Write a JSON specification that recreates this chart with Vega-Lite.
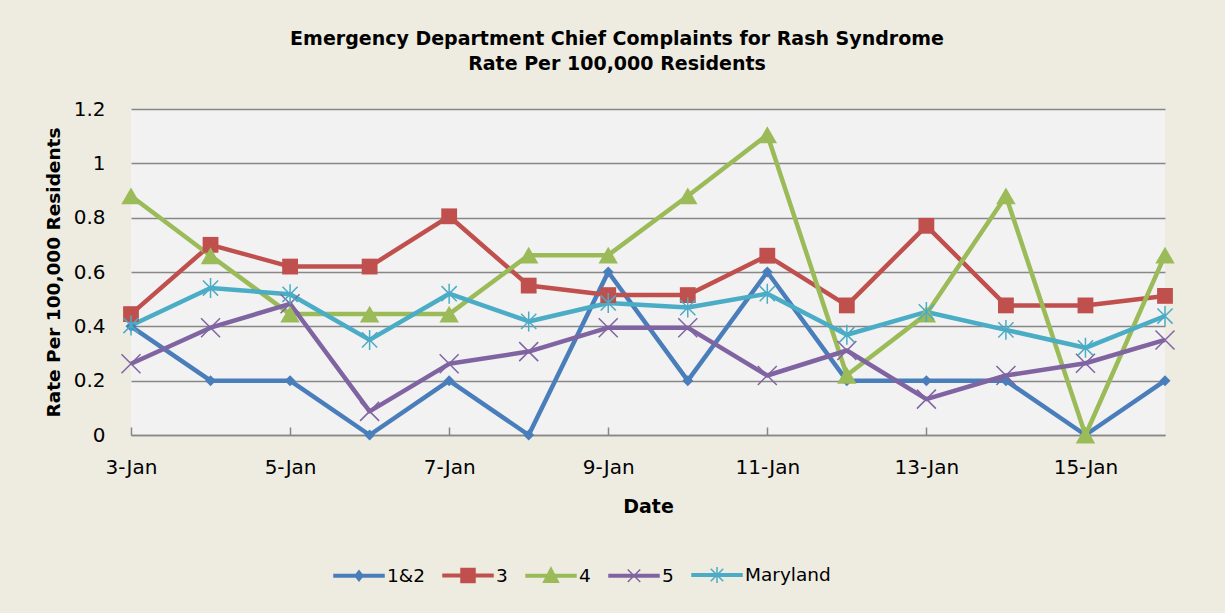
{
  "$schema": "https://vega.github.io/schema/vega-lite/v6.json",
  "autosize": "none",
  "width": 1034,
  "height": 326,
  "padding": {"left": 131, "top": 109, "right": 60, "bottom": 178},
  "background": "#EEECE1",
  "title": {
    "text": ["Emergency Department Chief Complaints for Rash Syndrome", "Rate Per 100,000 Residents"],
    "font": "DejaVu Sans",
    "fontSize": 19,
    "fontWeight": "bold",
    "color": "black",
    "anchor": "middle",
    "dx": -31,
    "offset": 25,
    "lineHeight": 25
  },
  "config": {
    "view": {"fill": "#F2F2F2", "stroke": null},
    "axis": {"labelFont": "DejaVu Sans", "labelFontSize": 20, "labelColor": "black", "titleFont": "DejaVu Sans", "titleFontSize": 19, "titleFontWeight": "bold", "titleColor": "black"}
  },
  "data": {"values": [
    {"date": "3-Jan", "series": "1&2", "rate": 0.4},
    {"date": "4-Jan", "series": "1&2", "rate": 0.2},
    {"date": "5-Jan", "series": "1&2", "rate": 0.2},
    {"date": "6-Jan", "series": "1&2", "rate": 0},
    {"date": "7-Jan", "series": "1&2", "rate": 0.2},
    {"date": "8-Jan", "series": "1&2", "rate": 0},
    {"date": "9-Jan", "series": "1&2", "rate": 0.6},
    {"date": "10-Jan", "series": "1&2", "rate": 0.2},
    {"date": "11-Jan", "series": "1&2", "rate": 0.6},
    {"date": "12-Jan", "series": "1&2", "rate": 0.2},
    {"date": "13-Jan", "series": "1&2", "rate": 0.2},
    {"date": "14-Jan", "series": "1&2", "rate": 0.2},
    {"date": "15-Jan", "series": "1&2", "rate": 0},
    {"date": "16-Jan", "series": "1&2", "rate": 0.2},
    {"date": "3-Jan", "series": "3", "rate": 0.445},
    {"date": "4-Jan", "series": "3", "rate": 0.7},
    {"date": "5-Jan", "series": "3", "rate": 0.62},
    {"date": "6-Jan", "series": "3", "rate": 0.62},
    {"date": "7-Jan", "series": "3", "rate": 0.805},
    {"date": "8-Jan", "series": "3", "rate": 0.55},
    {"date": "9-Jan", "series": "3", "rate": 0.515},
    {"date": "10-Jan", "series": "3", "rate": 0.515},
    {"date": "11-Jan", "series": "3", "rate": 0.66},
    {"date": "12-Jan", "series": "3", "rate": 0.477},
    {"date": "13-Jan", "series": "3", "rate": 0.77},
    {"date": "14-Jan", "series": "3", "rate": 0.477},
    {"date": "15-Jan", "series": "3", "rate": 0.477},
    {"date": "16-Jan", "series": "3", "rate": 0.512},
    {"date": "3-Jan", "series": "4", "rate": 0.88},
    {"date": "4-Jan", "series": "4", "rate": 0.66},
    {"date": "5-Jan", "series": "4", "rate": 0.445},
    {"date": "6-Jan", "series": "4", "rate": 0.445},
    {"date": "7-Jan", "series": "4", "rate": 0.445},
    {"date": "8-Jan", "series": "4", "rate": 0.662},
    {"date": "9-Jan", "series": "4", "rate": 0.662},
    {"date": "10-Jan", "series": "4", "rate": 0.88},
    {"date": "11-Jan", "series": "4", "rate": 1.105},
    {"date": "12-Jan", "series": "4", "rate": 0.22},
    {"date": "13-Jan", "series": "4", "rate": 0.445},
    {"date": "14-Jan", "series": "4", "rate": 0.88},
    {"date": "15-Jan", "series": "4", "rate": 0},
    {"date": "16-Jan", "series": "4", "rate": 0.662},
    {"date": "3-Jan", "series": "5", "rate": 0.262},
    {"date": "4-Jan", "series": "5", "rate": 0.395},
    {"date": "5-Jan", "series": "5", "rate": 0.483},
    {"date": "6-Jan", "series": "5", "rate": 0.087},
    {"date": "7-Jan", "series": "5", "rate": 0.262},
    {"date": "8-Jan", "series": "5", "rate": 0.307},
    {"date": "9-Jan", "series": "5", "rate": 0.395},
    {"date": "10-Jan", "series": "5", "rate": 0.395},
    {"date": "11-Jan", "series": "5", "rate": 0.219},
    {"date": "12-Jan", "series": "5", "rate": 0.311},
    {"date": "13-Jan", "series": "5", "rate": 0.132},
    {"date": "14-Jan", "series": "5", "rate": 0.219},
    {"date": "15-Jan", "series": "5", "rate": 0.264},
    {"date": "16-Jan", "series": "5", "rate": 0.35},
    {"date": "3-Jan", "series": "Maryland", "rate": 0.403},
    {"date": "4-Jan", "series": "Maryland", "rate": 0.541},
    {"date": "5-Jan", "series": "Maryland", "rate": 0.518},
    {"date": "6-Jan", "series": "Maryland", "rate": 0.35},
    {"date": "7-Jan", "series": "Maryland", "rate": 0.52},
    {"date": "8-Jan", "series": "Maryland", "rate": 0.418},
    {"date": "9-Jan", "series": "Maryland", "rate": 0.486},
    {"date": "10-Jan", "series": "Maryland", "rate": 0.469},
    {"date": "11-Jan", "series": "Maryland", "rate": 0.52},
    {"date": "12-Jan", "series": "Maryland", "rate": 0.369},
    {"date": "13-Jan", "series": "Maryland", "rate": 0.453},
    {"date": "14-Jan", "series": "Maryland", "rate": 0.387},
    {"date": "15-Jan", "series": "Maryland", "rate": 0.321},
    {"date": "16-Jan", "series": "Maryland", "rate": 0.438}
  ]},
  "encoding": {
    "x": {
      "field": "date", "type": "ordinal",
      "scale": {"type": "point", "padding": 0, "domain": ["3-Jan","4-Jan","5-Jan","6-Jan","7-Jan","8-Jan","9-Jan","10-Jan","11-Jan","12-Jan","13-Jan","14-Jan","15-Jan","16-Jan"]},
      "axis": {
        "title": "Date",
        "values": ["3-Jan","5-Jan","7-Jan","9-Jan","11-Jan","13-Jan","15-Jan"],
        "labelAngle": 0,
        "grid": false,
        "domainColor": "#878787",
        "domainWidth": 1.5,
        "tickColor": "#878787",
        "tickWidth": 1.5,
        "tickSize": -8,
        "labelPadding": 30,
        "titlePadding": 20
      }
    },
    "y": {
      "field": "rate", "type": "quantitative",
      "scale": {"domain": [0, 1.2], "nice": false},
      "axis": {
        "title": "Rate Per 100,000 Residents",
        "values": [0, 0.2, 0.4, 0.6, 0.8, 1, 1.2],
        "format": "~g",
        "grid": true,
        "gridColor": "#878787",
        "gridWidth": 1.5,
        "gridOpacity": 1,
        "domain": false,
        "ticks": false,
        "labelPadding": 26,
        "titlePadding": 10,
        "titleFontSize": 18.5
      }
    },
    "color": {
      "field": "series", "type": "nominal",
      "scale": {"domain": ["1&2", "3", "4", "5", "Maryland"], "range": ["#4A7EBB", "#C0504D", "#9BBB59", "#8064A2", "#4BACC6"]},
      "legend": {
        "orient": "none",
        "legendX": 202,
        "legendY": 440,
        "direction": "horizontal",
        "title": null,
        "symbolSize": 2500,
        "labelFont": "DejaVu Sans",
        "labelFontSize": 18.5,
        "labelColor": "black",
        "labelOffset": 2,
        "columnPadding": 15,
        "symbolStrokeWidth": 1.5,
        "encode": {
          "symbols": {
            "update": {
              "shape": {"signal": "datum.value === '1&2' ? 'M-1,-0.05H1V0.05H-1Z M0,-0.2L0.16,0L0,0.2L-0.16,0Z' : datum.value === '3' ? 'M-1,-0.05H1V0.05H-1Z M-0.28,-0.28H0.28V0.28H-0.28Z' : datum.value === '4' ? 'M-1,-0.05H1V0.05H-1Z M0,-0.32L0.3,0.26H-0.3Z' : datum.value === '5' ? 'M-1,-0.05H1V0.05H-1Z M-0.25,-0.25L0.25,0.25M-0.25,0.25L0.25,-0.25' : 'M-1,-0.05H1V0.05H-1Z M-0.25,-0.25L0.25,0.25M-0.25,0.25L0.25,-0.25M0,-0.32V0.32'"},
              "fill": {"signal": "scale('color', datum.value)"},
              "stroke": {"signal": "scale('color', datum.value)"},
              "strokeWidth": {"value": 1.5},
              "opacity": {"value": 1},
              "fillOpacity": {"value": 1}
            }
          }
        }
      }
    }
  },
  "layer": [
    {
      "mark": {"type": "line", "strokeWidth": 4.5, "strokeJoin": "round"}
    },
    {
      "transform": [{"filter": "datum.series === '1&2' || datum.series === '3' || datum.series === '4'"}],
      "mark": {"type": "point", "filled": true, "opacity": 1},
      "encoding": {
        "shape": {"field": "series", "type": "nominal", "legend": null,
          "scale": {"domain": ["1&2", "3", "4"], "range": ["diamond", "square", "triangle-up"]}},
        "size": {"field": "series", "type": "nominal", "legend": null,
          "scale": {"domain": ["1&2", "3", "4"], "range": [120, 380, 360]}}
      }
    },
    {
      "transform": [{"filter": "datum.series === '5' || datum.series === 'Maryland'"}],
      "mark": {"type": "point", "filled": false, "opacity": 1, "strokeWidth": 1.5, "size": 361},
      "encoding": {
        "shape": {"field": "series", "type": "nominal", "legend": null,
          "scale": {"domain": ["5", "Maryland"], "range": ["M-1,-1L1,1M-1,1L1,-1", "M-0.8,-0.8L0.8,0.8M-0.8,0.8L0.8,-0.8M0,-1.05V1.05"]}}
      }
    }
  ],
  "resolve": {"scale": {"shape": "independent", "size": "independent"}}
}
